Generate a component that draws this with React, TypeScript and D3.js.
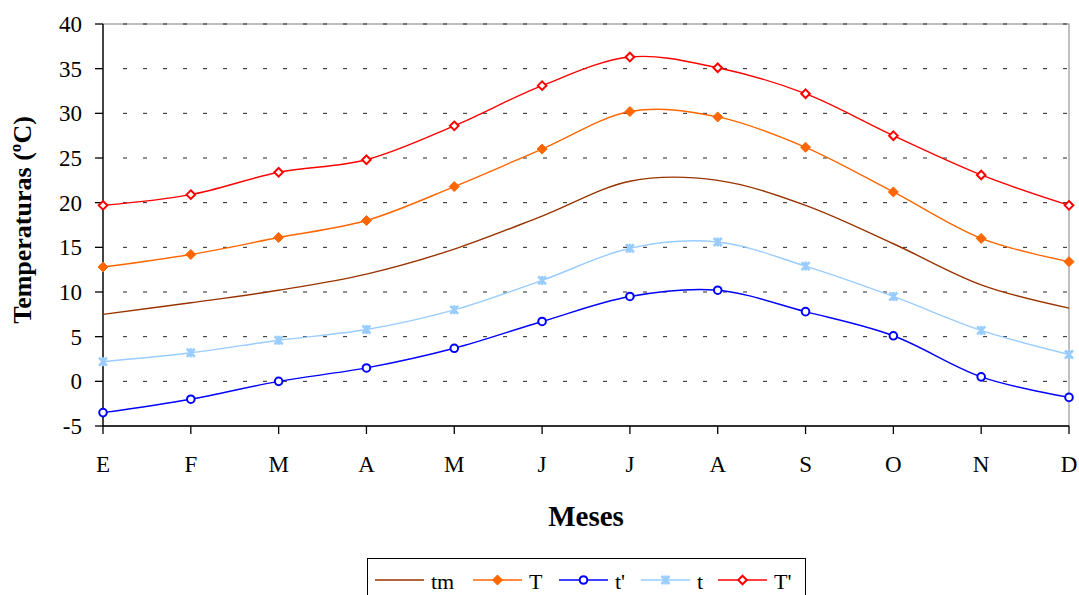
import React from "react";
import * as d3 from "d3";

const months = ["E", "F", "M", "A", "M", "J", "J", "A", "S", "O", "N", "D"];
const yTicks = [-5, 0, 5, 10, 15, 20, 25, 30, 35, 40];

const tm = [7.5, 8.8, 10.2, 12.0, 14.8, 18.5, 22.4, 22.5, 19.7, 15.4, 10.8, 8.2];
const T = [12.8, 14.2, 16.1, 18.0, 21.8, 26.0, 30.2, 29.6, 26.2, 21.2, 16.0, 13.4];
const tPrime = [-3.5, -2.0, 0.0, 1.5, 3.7, 6.7, 9.5, 10.2, 7.8, 5.1, 0.5, -1.8];
const tLow = [2.2, 3.2, 4.6, 5.8, 8.0, 11.3, 14.9, 15.6, 12.9, 9.5, 5.7, 3.0];
const TPrime = [19.7, 20.9, 23.4, 24.8, 28.6, 33.1, 36.3, 35.1, 32.2, 27.5, 23.1, 19.7];

const seriesNames = ["tm", "T", "t'", "t", "T'"];
const seriesValues = [tm, T, tPrime, tLow, TPrime];
const seriesColors = ["#993300", "#FF6600", "#0000FF", "#99CCFF", "#FF0000"];
const seriesMarkers = ["none", "diamondFilled", "circle", "star", "diamondHollow"];

const W = 1079;
const H = 595;
const M = { left: 103, right: 1069, top: 24, bottom: 426 };
const LEGEND_X = [375, 473, 559, 641, 718];
const FONT = "'Liberation Serif', 'Times New Roman', serif";

function Marker({ kind, x, y, color }: { kind: string; x: number; y: number; color: string }) {
  if (kind === "diamondFilled") {
    const s = 5;
    return <path d={`M${x},${y - s}L${x + s},${y}L${x},${y + s}L${x - s},${y}Z`} fill={color} stroke={color} strokeWidth={1} />;
  }
  if (kind === "diamondHollow") {
    const s = 4.3;
    return <path d={`M${x},${y - s}L${x + s},${y}L${x},${y + s}L${x - s},${y}Z`} fill="#fff" stroke={color} strokeWidth={2} />;
  }
  if (kind === "circle") {
    return <circle cx={x} cy={y} r={3.8} fill="#fff" stroke={color} strokeWidth={2} />;
  }
  if (kind === "star") {
    const s = 4;
    return (
      <path
        d={`M${x - s},${y - s}L${x + s},${y + s}M${x - s},${y + s}L${x + s},${y - s}M${x},${y - s - 0.5}L${x},${y + s + 0.5}`}
        stroke={color}
        strokeWidth={2.6}
        fill="none"
      />
    );
  }
  return null;
}

export default function App() {
  const x = d3.scalePoint<number>().domain(d3.range(months.length)).range([M.left, M.right]).padding(0);
  const y = d3.scaleLinear().domain([-5, 40]).range([M.bottom, M.top]);
  const line = d3
    .line<number>()
    .x((_, i) => x(i) as number)
    .y((v) => y(v))
    .curve(d3.curveCardinal.tension(0));

  return (
    <div style={{ position: "absolute", left: 0, top: 0 }}>
      <svg width={W} height={H} style={{ display: "block", background: "#fff" }} fontFamily={FONT}>
        {/* plot border */}
        <rect x={M.left} y={M.top} width={M.right - M.left} height={M.bottom - M.top} fill="none" stroke="#808080" strokeWidth={1} />
        {/* gridlines */}
        {yTicks
          .filter((t) => t > -5)
          .map((t) => (
            <line
              key={"g" + t}
              x1={M.left + 20}
              x2={M.right - 2}
              y1={y(t)}
              y2={y(t)}
              stroke="#222"
              strokeWidth={1}
              strokeDasharray="4,16"
            />
          ))}
        {/* axes */}
        <line x1={M.left} x2={M.left} y1={M.top} y2={M.bottom} stroke="#000" strokeWidth={1.3} />
        <line x1={M.left} x2={M.right} y1={M.bottom} y2={M.bottom} stroke="#000" strokeWidth={1.3} />
        {yTicks.map((t) => (
          <g key={"yt" + t}>
            <line x1={M.left - 8} x2={M.left} y1={y(t)} y2={y(t)} stroke="#000" strokeWidth={1.3} />
            <text x={82} y={y(t)} dy="0.35em" textAnchor="end" fontSize={23} fill="#000">
              {t}
            </text>
          </g>
        ))}
        {months.map((m, i) => (
          <g key={"xt" + i}>
            <line x1={x(i)} x2={x(i)} y1={M.bottom} y2={M.bottom + 8} stroke="#000" strokeWidth={1.3} />
            <text x={x(i)} y={472} textAnchor="middle" fontSize={23} fill="#000">
              {m}
            </text>
          </g>
        ))}
        {/* axis titles */}
        <text x={586} y={526} textAnchor="middle" fontSize={29} fontWeight="bold" fill="#000">
          Meses
        </text>
        <text
          transform={`translate(31,${220}) rotate(-90)`}
          textAnchor="middle"
          fontSize={26}
          fontWeight="bold"
          fill="#000"
        >
          Temperaturas (ºC)
        </text>
        {/* series */}
        {seriesValues.map((vals, si) => (
          <g key={"s" + si}>
            <path d={line(vals) || ""} fill="none" stroke={seriesColors[si]} strokeWidth={1.4} />
            {vals.map((v, i) => (
              <Marker key={i} kind={seriesMarkers[si]} x={x(i) as number} y={y(v)} color={seriesColors[si]} />
            ))}
          </g>
        ))}
        {/* legend */}
        <rect x={367.5} y={558.5} width={438} height={45} fill="#fff" stroke="#000" strokeWidth={1} />
        {seriesNames.map((name, si) => {
          const lx = LEGEND_X[si];
          return (
            <g key={"l" + si}>
              <line x1={lx} x2={lx + 49} y1={580} y2={580} stroke={seriesColors[si]} strokeWidth={1.4} />
              <Marker kind={seriesMarkers[si]} x={lx + 24.5} y={580} color={seriesColors[si]} />
              <text x={lx + 56} y={589} fontSize={22} fill="#000">
                {name}
              </text>
            </g>
          );
        })}
      </svg>
    </div>
  );
}
